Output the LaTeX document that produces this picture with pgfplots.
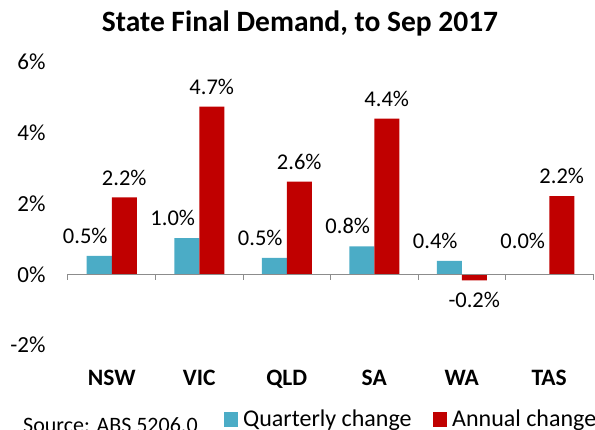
\documentclass[border=0pt]{standalone}
\usepackage{pgfplots}
\pgfplotsset{compat=1.18}
\usepackage{fontspec}
\setmainfont{Carlito}
\definecolor{qblue}{RGB}{75,172,198}
\definecolor{ared}{RGB}{192,0,0}
\begin{document}
\begin{tikzpicture}[x=1pt,y=1pt]
\useasboundingbox (0,0) rectangle (595,429);
\node[font=\bfseries\fontsize{29.5}{34}\selectfont, anchor=base] at (300,397) {State Final Demand, to Sep 2017};
\begin{axis}[
  at={(68pt,84pt)}, anchor=south west,
  scale only axis, width=525pt, height=283pt,
  xmin=-0.5, xmax=5.5, ymin=-2, ymax=6,
  ybar=0pt, bar width=25pt,
  axis line style={draw=none},
  tick style={draw=none},
  ytick={-2,0,2,4,6},
  yticklabel={\pgfmathprintnumber{\tick}\%},
  /pgf/number format/assume math mode=true,
  yticklabel style={font=\fontsize{23}{27}\selectfont, xshift=-19pt},
  xtick={0,1,2,3,4,5},
  xticklabels={NSW,VIC,QLD,SA,WA,TAS},
  xticklabel style={font=\bfseries\fontsize{23.5}{27}\selectfont, yshift=-17pt},
  point meta=y,
  nodes near coords={\pgfmathprintnumber[fixed,fixed zerofill,precision=1]{\pgfplotspointmeta}\%},
  nodes near coords align={vertical},
  every node near coord/.append style={font=\fontsize{22.5}{26}\selectfont, inner xsep=0pt, inner ysep=12pt},
  clip=false,
]
\addplot[fill=qblue, draw=none,
  visualization depends on={value \coordindex \as \idx},
  every node near coord/.append style={xshift=-14pt, yshift={ifthenelse(\idx==5,13,0)}}] table {
x y
0 0.52
1 1.02
2 0.46
3 0.79
4 0.38
5 0.00
};
\addplot[fill=ared, draw=none] table {
x y
0 2.17
1 4.74
2 2.62
3 4.40
4 -0.17
5 2.21
};
\draw[black!45, line width=1pt] (axis cs:-0.5,0) -- (axis cs:5.5,0);
\pgfplotsinvokeforeach{-0.5,0.5,1.5,2.5,3.5,4.5,5.5}{
  \draw[black!45, line width=1pt] (axis cs:#1,0) -- ([yshift=-6pt]axis cs:#1,0);
}
\end{axis}
\node[anchor=base west, inner sep=0pt, font=\fontsize{22}{26}\selectfont] at (23,-3) {Source: ABS 5206.0};
\fill[qblue] (223.5,2.5) rectangle (238,17);
\node[anchor=base west, font=\fontsize{24}{28}\selectfont, inner sep=0pt] at (243,2.5) {Quarterly change};
\fill[ared] (432.5,2.5) rectangle (446.5,17);
\node[anchor=base west, font=\fontsize{24}{28}\selectfont, inner sep=0pt] at (452,2.5) {Annual change};
\end{tikzpicture}
\end{document}
